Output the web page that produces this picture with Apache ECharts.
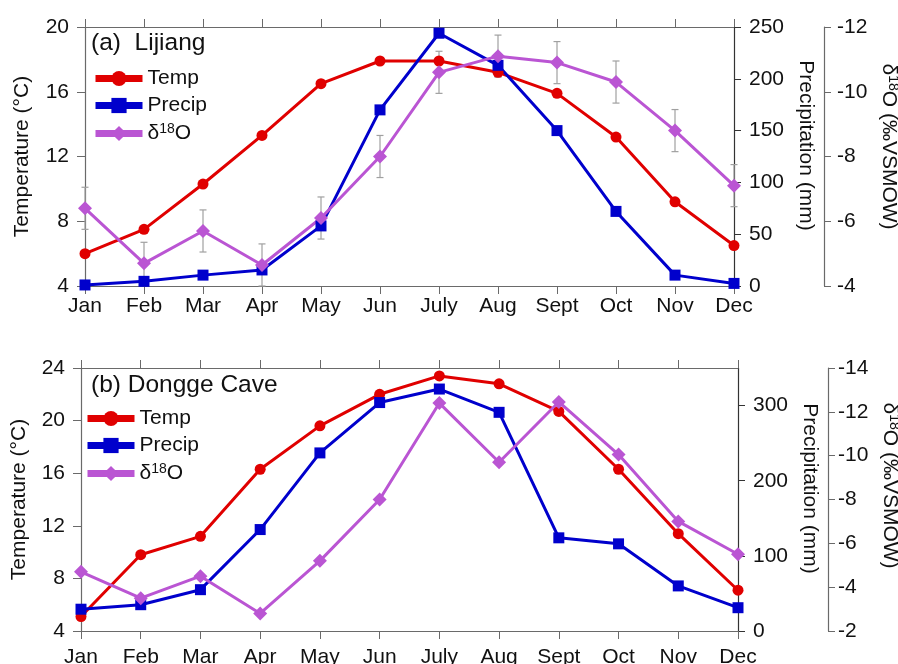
<!DOCTYPE html>
<html>
<head>
<meta charset="utf-8">
<script src="https://cdn.jsdelivr.net/npm/echarts@6/dist/echarts.min.js"></script>
<style>
  html, body { margin: 0; padding: 0; background: #fff; }
  #chart { width: 898px; height: 664px; }
</style>
</head>
<body>
<div id="chart"></div>
<script>
// Month labels shared by both panels
const months = ['Jan', 'Feb', 'Mar', 'Apr', 'May', 'Jun', 'July', 'Aug', 'Sept', 'Oct', 'Nov', 'Dec'];

// (a) Lijiang: monthly mean temperature (°C), precipitation (mm), δ18O (‰ VSMOW) and its 1σ spread
const ljTemp   = [6.0, 7.5, 10.3, 13.3, 16.5, 17.9, 17.9, 17.2, 15.9, 13.2, 9.2, 6.5];
const ljPrecip = [1, 4.5, 10.5, 15.5, 58, 170, 244, 213, 150, 72, 10.5, 2.5];
const ljD18O   = [-6.4, -4.7, -5.7, -4.65, -6.1, -8.0, -10.6, -11.1, -10.9, -10.3, -8.8, -7.1];
const ljD18OSd = [0.65, 0.65, 0.65, 0.65, 0.65, 0.65, 0.65, 0.65, 0.65, 0.65, 0.65, 0.65];

// (b) Dongge Cave
const dgTemp   = [5.1, 9.8, 11.2, 16.3, 19.6, 22.0, 23.4, 22.8, 20.7, 16.3, 11.4, 7.1];
const dgPrecip = [29, 35, 55, 135, 237, 304, 322, 291, 124, 116, 60, 31];
const dgD18O   = [-4.7, -3.5, -4.5, -2.8, -5.2, -8.0, -12.4, -9.7, -12.45, -10.05, -7.0, -5.5];

// Axis ranges / tick steps
const tempAxisA = { min: 4, max: 20, interval: 4 };
const precipAxisA = { min: 0, max: 250, interval: 50 };
const isoAxisA = { min: -12, max: -4, interval: 2 };
const tempAxisB = { min: 4, max: 24, interval: 4 };
const precipAxisB = { min: 0, max: 350, interval: 100 };
const isoAxisB = { min: -14, max: -2, interval: 2 };

const RED = '#e00000';
const BLUE = '#0000cc';
const VIOLET = '#ba55d3';
const FRAME = '#6a6a6a';
const FONT = '"Liberation Sans", Arial, Helvetica, sans-serif';
const TXT = '#111';
const FS = 21;

const supRich = {
  n: { fontSize: FS, fontFamily: FONT, color: TXT },
  s: { fontSize: 14, fontFamily: FONT, color: TXT, verticalAlign: 'top', padding: [0, 0, 9, 0] }
};
const isoName = '{n|δ}{s|18}{n|O (‰VSMOW)}';

function xAxes(grid, margin) {
  return [
    {
      gridIndex: grid, type: 'category', data: months, boundaryGap: false,
      axisLine: { lineStyle: { color: FRAME, width: 1.2 } },
      axisTick: { show: true, length: 8, alignWithLabel: true, lineStyle: { color: FRAME } },
      axisLabel: { fontSize: FS, fontFamily: FONT, color: TXT, margin: margin },
      splitLine: { show: false }
    },
    {
      gridIndex: grid, type: 'category', data: months, boundaryGap: false, position: 'top',
      axisLine: { lineStyle: { color: FRAME, width: 1.2 } },
      axisTick: { show: true, length: 8, lineStyle: { color: FRAME } },
      axisLabel: { show: false },
      splitLine: { show: false }
    }
  ];
}

function tempAxis(grid, r, gap) {
  return {
    gridIndex: grid, type: 'value', position: 'left', min: r.min, max: r.max, interval: r.interval,
    name: 'Temperature (°C)', nameLocation: 'middle', nameGap: gap,
    nameTextStyle: { fontSize: FS, fontFamily: FONT, color: TXT },
    axisLine: { show: true, lineStyle: { color: FRAME, width: 1.2 } },
    axisTick: { show: true, length: 8, lineStyle: { color: FRAME } },
    axisLabel: { fontSize: FS, fontFamily: FONT, color: TXT, margin: 16 },
    splitLine: { show: false }
  };
}

function precipAxis(grid, r, gap, shift, hideMax) {
  return {
    gridIndex: grid, type: 'value', position: 'right', min: r.min, max: r.max, interval: r.interval,
    name: 'Precipitation (mm)', nameLocation: 'middle', nameGap: gap, nameRotate: -90,
    nameTextStyle: { fontSize: FS, fontFamily: FONT, color: TXT, padding: [0, shift, 0, 0] },
    axisLine: { show: true, lineStyle: { color: '#333', width: 1.2 } },
    axisTick: { show: true, length: 7, lineStyle: { color: '#333' } },
    axisLabel: { fontSize: FS, fontFamily: FONT, color: TXT, margin: 15, showMaxLabel: !hideMax },
    splitLine: { show: false }
  };
}

function isoAxis(grid, r, offset, gap, shift, margin) {
  return {
    gridIndex: grid, type: 'value', position: 'right', offset: offset, inverse: true,
    min: r.min, max: r.max, interval: r.interval,
    name: isoName, nameLocation: 'middle', nameGap: gap, nameRotate: -90,
    nameTextStyle: { fontSize: FS, fontFamily: FONT, color: TXT, rich: supRich, padding: [0, shift, 0, 0] },
    axisLine: { show: true, lineStyle: { color: FRAME, width: 1.2 } },
    axisTick: { show: true, length: 7, lineStyle: { color: FRAME } },
    axisLabel: { fontSize: FS, fontFamily: FONT, color: TXT, margin: margin },
    splitLine: { show: false }
  };
}

function lineSeries(name, data, xi, yi, color, symbol, size) {
  return {
    name: name, type: 'line', xAxisIndex: xi, yAxisIndex: yi, data: data,
    symbol: symbol, symbolSize: size, showSymbol: true,
    lineStyle: { color: color, width: 3 },
    itemStyle: { color: color },
    emphasis: { disabled: true }, animation: false
  };
}

// Gray whiskers for δ18O spread
const errData = ljD18O.map((v, i) => [i, v - ljD18OSd[i], v + ljD18OSd[i]]);
const errSeries = {
  type: 'custom', xAxisIndex: 0, yAxisIndex: 2, data: errData, silent: true, z: 1, animation: false,
  encode: { x: 0, y: [1, 2] },
  renderItem: function (params, api) {
    const lo = api.coord([api.value(0), api.value(1)]);
    const hi = api.coord([api.value(0), api.value(2)]);
    const w = 3.5;
    const style = { stroke: '#a0a0a0', lineWidth: 1.2 };
    return {
      type: 'group',
      children: [
        { type: 'line', shape: { x1: lo[0], y1: lo[1], x2: hi[0], y2: hi[1] }, style: style },
        { type: 'line', shape: { x1: lo[0] - w, y1: lo[1], x2: lo[0] + w, y2: lo[1] }, style: style },
        { type: 'line', shape: { x1: hi[0] - w, y1: hi[1], x2: hi[0] + w, y2: hi[1] }, style: style }
      ]
    };
  }
};

function legendFor(left, top) {
  return {
    orient: 'vertical', left: left, top: top, padding: 0,
    data: ['Temp', 'Precip', 'δ18O'],
    itemWidth: 47, itemHeight: 19, itemGap: 6,
    lineStyle: { width: 7 },
    selectedMode: false,
    textStyle: { fontSize: FS, fontFamily: FONT, color: TXT, rich: supRich },
    formatter: function (name) {
      return name === 'δ18O' ? '{n|δ}{s|18}{n|O}' : '{n|' + name + '}';
    }
  };
}

const chart = echarts.init(document.getElementById('chart'), null, { renderer: 'canvas' });
chart.setOption({
  backgroundColor: '#fff',
  animation: false,
  title: [
    { text: '(a)  Lijiang', left: 91, top: 31, padding: 0, textStyle: { fontSize: 24.5, fontWeight: 'normal', fontFamily: FONT, color: TXT } },
    { text: '(b) Dongge Cave', left: 91, top: 373, padding: 0, textStyle: { fontSize: 24.5, fontWeight: 'normal', fontFamily: FONT, color: TXT } }
  ],
  legend: [legendFor(92, 68), legendFor(84, 408)],
  grid: [
    { left: 85, top: 27, width: 649, height: 259, outerBoundsMode: 'none' },
    { left: 81, top: 368, width: 657, height: 263, outerBoundsMode: 'none' }
  ],
  xAxis: xAxes(0, 10).concat(xAxes(1, 16)),
  yAxis: [
    tempAxis(0, tempAxisA, 52),
    precipAxis(0, precipAxisA, 58, 22, false),
    isoAxis(0, isoAxisA, 90, 41, 20, 13),
    tempAxis(1, tempAxisB, 51),
    precipAxis(1, precipAxisB, 57, 22, true),
    isoAxis(1, isoAxisB, 90, 41, 28, 10)
  ],
  series: [
    errSeries,
    lineSeries('Temp', ljTemp, 0, 0, RED, 'circle', 11),
    lineSeries('Precip', ljPrecip, 0, 1, BLUE, 'rect', 11),
    lineSeries('δ18O', ljD18O, 0, 2, VIOLET, 'diamond', 14),
    lineSeries('Temp', dgTemp, 2, 3, RED, 'circle', 11),
    lineSeries('Precip', dgPrecip, 2, 4, BLUE, 'rect', 11),
    lineSeries('δ18O', dgD18O, 2, 5, VIOLET, 'diamond', 14)
  ]
});
</script>
</body>
</html>
